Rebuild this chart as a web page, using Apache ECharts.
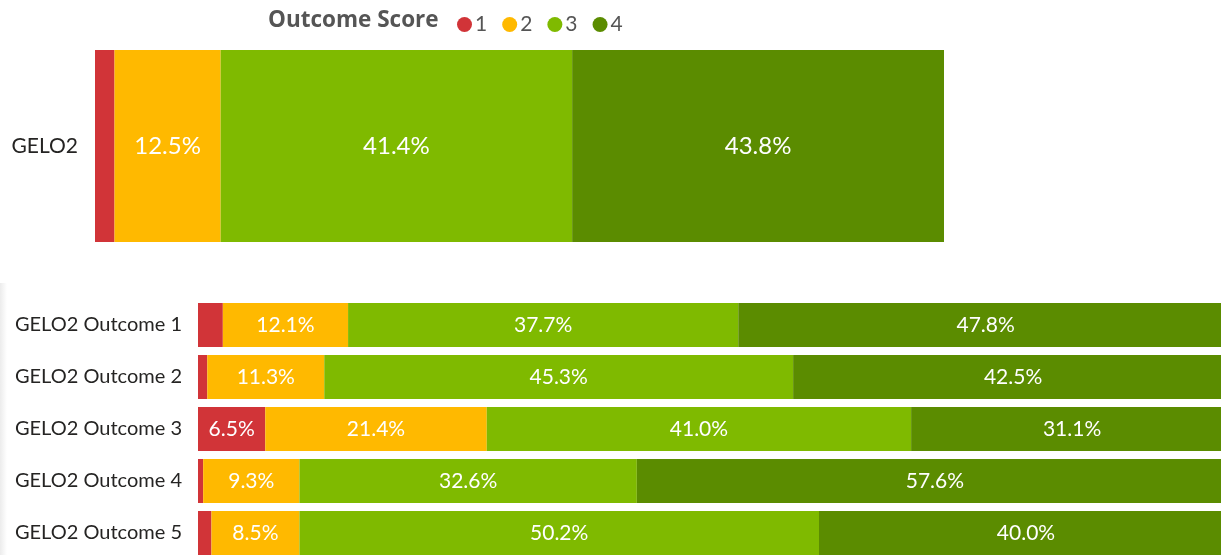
<!DOCTYPE html>
<html><head><meta charset="utf-8">
<script src="https://cdn.jsdelivr.net/npm/echarts@6/dist/echarts.min.js"></script>
<style>html,body{margin:0;padding:0;background:#fff}#c{width:1221px;height:555px}</style>
</head><body><div id="c"></div>
<script>
const scores = ['1', '2', '3', '4'];
const colors = ['#D13438', '#FFB900', '#7FBA00', '#5B8C00'];
const topCategories = ['GELO2'];
const topValues = {
  '1': [2.3],
  '2': [12.5],
  '3': [41.4],
  '4': [43.8]
};
const bottomCategories = ['GELO2 Outcome 1', 'GELO2 Outcome 2', 'GELO2 Outcome 3', 'GELO2 Outcome 4', 'GELO2 Outcome 5'];
const bottomValues = {
  '1': [2.4, 0.9, 6.5, 0.5, 1.3],
  '2': [12.1, 11.3, 21.4, 9.3, 8.5],
  '3': [37.7, 45.3, 41.0, 32.6, 50.2],
  '4': [47.8, 42.5, 31.1, 57.6, 40.0]
};

const FONT = 'Lato, "Open Sans", sans-serif';
const fmt = p => (p.value >= 4 ? p.value.toFixed(1) + '%' : '');
const series = [];
scores.forEach((s, i) => {
  series.push({
    name: s, type: 'bar', stack: 'top', xAxisIndex: 0, yAxisIndex: 0,
    data: topValues[s], barWidth: 192, itemStyle: { color: colors[i] },
    label: { show: true, position: 'inside', color: '#fff', fontSize: 24, fontFamily: FONT, formatter: fmt },
    emphasis: { disabled: true }
  });
  series.push({
    name: s, type: 'bar', stack: 'bottom', xAxisIndex: 1, yAxisIndex: 1,
    data: bottomValues[s], barWidth: 44, itemStyle: { color: colors[i] },
    label: { show: true, position: 'inside', color: '#fff', fontSize: 21, fontFamily: FONT, formatter: fmt },
    emphasis: { disabled: true }
  });
});

const chart = echarts.init(document.getElementById('c'));
chart.setOption({
  animation: false,
  color: colors,
  title: {
    text: 'Outcome Score', left: 263, top: 4,
    textStyle: { fontFamily: '"Open Sans", sans-serif', fontSize: 22.5, fontWeight: 'bold', color: '#555' }
  },
  legend: {
    data: scores, left: 452, top: 9, icon: 'circle', itemWidth: 15, itemHeight: 15,
    itemGap: 15, textStyle: { fontFamily: FONT, fontSize: 21, color: '#555', padding: [0, 0, 0, -2] }
  },
  graphic: [{
    type: 'rect', left: 0, top: 283, shape: { width: 7, height: 272 },
    style: { fill: new echarts.graphic.LinearGradient(0, 0, 1, 0, [{ offset: 0, color: '#ececec' }, { offset: 1, color: '#ffffff' }]) },
    z: -1
  }],
  grid: [
    { left: 95, top: 50, width: 849, height: 192, outerBoundsMode: 'none' },
    { left: 198, top: 299, width: 1035, height: 260, outerBoundsMode: 'none' }
  ],
  xAxis: [
    { gridIndex: 0, type: 'value', min: 0, max: 100, show: false },
    { gridIndex: 1, type: 'value', min: 0, max: 100, show: false }
  ],
  yAxis: [
    { gridIndex: 0, type: 'category', data: topCategories, axisLine: { show: false }, axisTick: { show: false },
      axisLabel: { margin: 17, fontFamily: FONT, fontSize: 21, color: '#252423' } },
    { gridIndex: 1, type: 'category', data: bottomCategories, inverse: true, axisLine: { show: false }, axisTick: { show: false },
      axisLabel: { margin: 16, fontFamily: FONT, fontSize: 20, color: '#252423' } }
  ],
  series: series
});
</script></body></html>
